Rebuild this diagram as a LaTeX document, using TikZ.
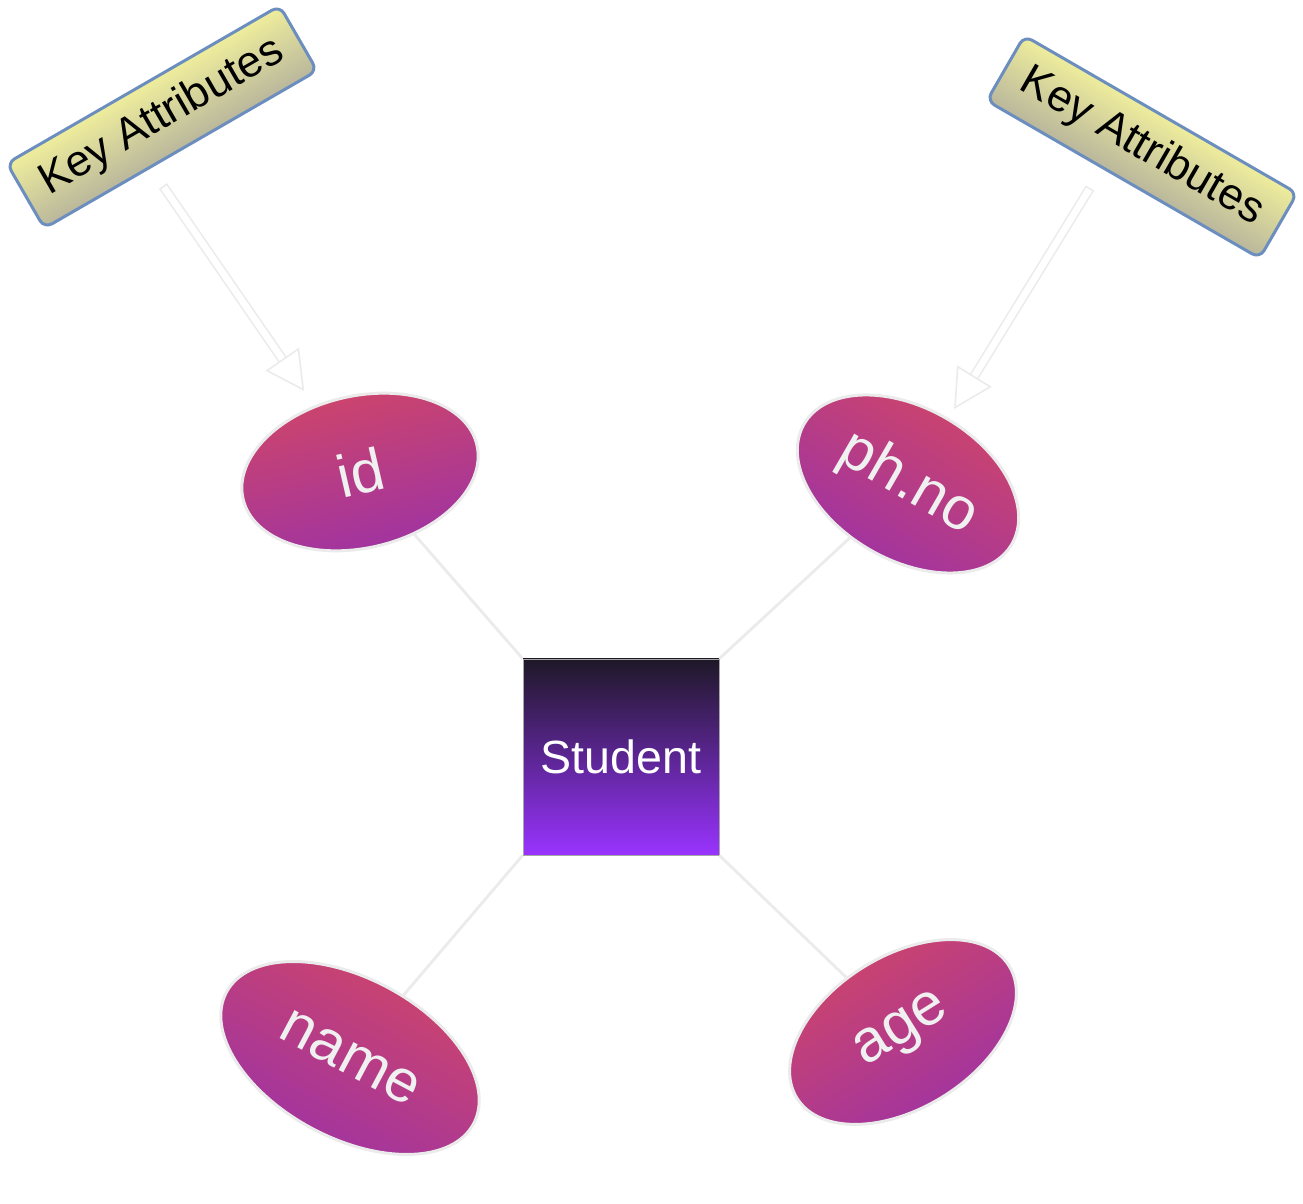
\documentclass[tikz,border=0pt]{standalone}
\usepackage{fontspec}
\setmainfont{Liberation Sans}
\usetikzlibrary{arrows.meta,shapes.geometric}
\definecolor{erRojo}{HTML}{D04668}
\definecolor{erMorado}{HTML}{9C32A5}
\definecolor{erOscuro}{HTML}{1E1827}
\definecolor{erVioleta}{HTML}{9933FF}
\definecolor{erAmarillo}{HTML}{FBFA9C}
\definecolor{erGris}{HTML}{ADAA9C}
\definecolor{erAzul}{HTML}{6C8EBF}
\definecolor{erLinea}{HTML}{EBEBEB}
\pgfdeclareverticalshading{keyshade}{100bp}{color(0bp)=(erGris); color(39bp)=(erGris);
  color(61bp)=(erAmarillo); color(100bp)=(erAmarillo)}

\begin{document}
\begin{tikzpicture}[
    attr/.style={ellipse, draw=erLinea, line width=1.7pt, top color=erRojo, bottom color=erMorado,
      text=white!94!black, font=\fontsize{34}{40}\selectfont, inner sep=0pt},
    keybox/.style={rectangle, rounded corners=5pt, draw=erAzul, line width=1.7pt,
      shading=keyshade, minimum width=6.3cm, minimum height=1.5cm,
      font=\fontsize{25}{30}\selectfont},
    conn/.style={erLinea, line width=1.6pt},
    hollow/.style={erLinea, line width=0.9pt, double=white, double distance=3.8pt,
      {Bar[width=5.6pt, line width=0.9pt]}-{Triangle[open, length=22pt, width=23pt, line width=0.9pt]}}]
    \useasboundingbox (0,0) rectangle (26.06,24.06);
    \node[draw=gray!70, line width=0.5pt, top color=erOscuro, bottom color=erVioleta,
      minimum size=3.92cm, text=white, font=\fontsize{26.5}{30}\selectfont] (student) at (12.42,8.92) {Student};
    \foreach \n/\x/\y/\r/\w/\h/\a in {
        id/7.2/14.62/13/4.8/3.04/id,
        phno/18.16/14.38/-30/4.8/3.04/ph.no,
        name/7.0/2.9/-28/5.6/3.2/name,
        age/18.06/3.42/32/5.0/3.04/age} {
      \node[attr, rotate=\r, shading angle=\r, minimum width=\w cm, minimum height=\h cm] (\n) at (\x,\y) {\a};
    }
    \draw[conn] (student.north west) -- (id);
    \draw[conn] (student.north east) -- (phno);
    \draw[conn] (student.south west) -- (name);
    \draw[conn] (student.south east) -- (age);
    \node[keybox, rotate=30, shading angle=30] (keyL) at (3.24,21.72) {Key Attributes};
    \node[keybox, rotate=-30, shading angle=-30] (keyR) at (22.84,21.12) {Key Attributes};
    \coordinate (footL) at (3.26,20.34);
    \coordinate (footR) at (21.8,20.3);
    \draw[hollow, shorten >=10pt] (footL) -- (id);
    \draw[hollow, shorten >=6pt] (footR) -- (phno);
  \end{tikzpicture}
\end{document}
